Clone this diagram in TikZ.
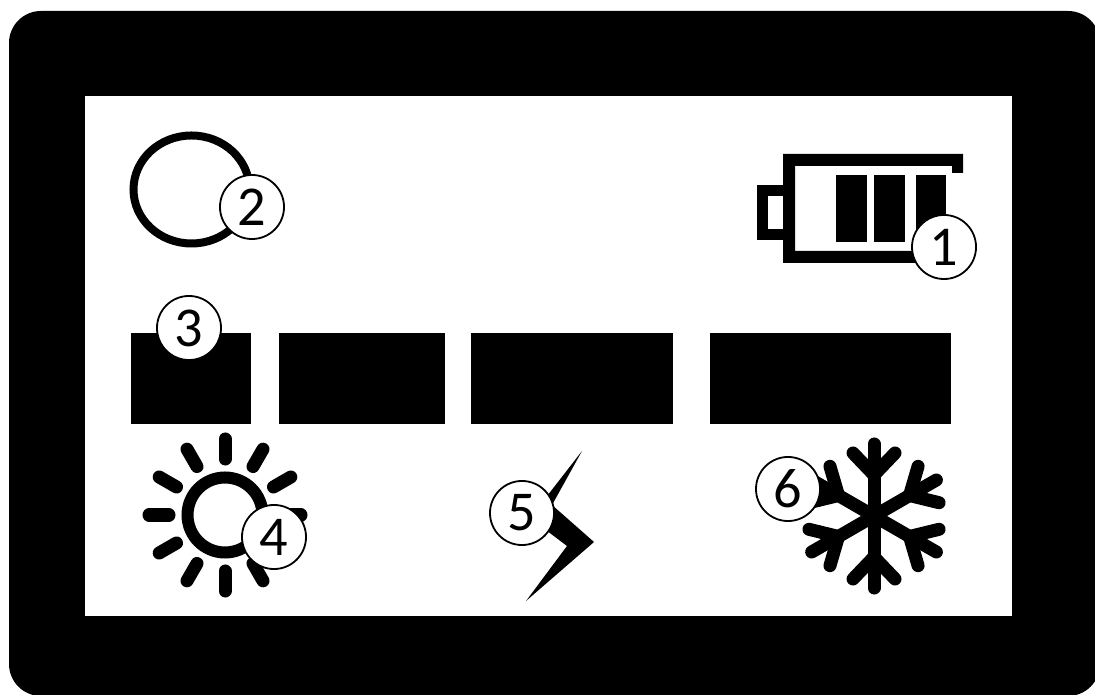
\documentclass[tikz,border=0pt]{standalone}
\usepackage{fontspec}
\setmainfont{Carlito}
\usetikzlibrary{positioning,calc}
\tikzset{
  badge/.style={circle, draw=black, fill=white, line width=0.018cm, minimum size=0.64cm, inner sep=0pt, font=\fontsize{16}{18}\selectfont},
  icon/.style={line width=0.13cm, line cap=round}
}

\begin{document}
\begin{tikzpicture}[x=0.01cm,y=-0.01cm]
    \useasboundingbox (0,0) rectangle (1095,695);

    % Display frame
    \fill[black, rounded corners=0.32cm] (9,11) rectangle (1100,696);
    \fill[white] (85,96) rectangle (1012,616);

    % Battery
    \fill[black] (783,154) -- (963,154) -- (963,173) -- (952,173) -- (952,166) -- (795,166) -- (795,251) -- (950,251) -- (950,263) -- (783,263) -- cycle;
    \draw[black, line width=0.11cm] (783,190.5) -- (762.5,190.5) -- (762.5,234.5) -- (783,234.5);
    \fill[black] (836,175) rectangle (867,242);
    \fill[black] (874,175) rectangle (905,242);
    \fill[black] (916,175) rectangle (946,242);

    % Ring
    \draw[black, line width=0.08cm] (191.5,189.5) ellipse (58 and 54);

    % Segment boxes
    \fill[black] (131,333) rectangle (251,424);
    \fill[black] (279,333) rectangle (445,424);
    \fill[black] (471,333) rectangle (673,424);
    \fill[black] (710,333) rectangle (951,424);

    % Sun
    \draw[black, line width=0.12cm] (225,515) circle (37.5);
    \foreach \a in {0,30,...,330}
        \draw[icon] ($(225,515)+(\a:56)$) -- ($(225,515)+(\a:76)$);

    % Bolt
    \fill[black] (582,451) -- (552,505) -- (594,542) -- (526,601) -- (567,546) -- (530,518) -- cycle;

    % Snowflake
    \foreach \a in {30,90,...,330}{
        \begin{scope}[shift={(874,516)},rotate=\a]
            \draw[icon] (0,0) -- (72,0);
            \draw[icon] (63,21) -- (41,0) -- (63,-21);
        \end{scope}
    }

    % Labels
    \node[badge] (badgeone) at (944,247) {1};
    \node[badge] (badgetwo) at (252,207) {2};
    \node[badge] (badgethree) at (189,328) {3};
    \node[badge] (badgefour) at (274,537) {4};
    \node[badge] (badgefive) at (522,513) {5};
    \node[badge] (badgesix) at (788,489) {6};
\end{tikzpicture}
\end{document}
